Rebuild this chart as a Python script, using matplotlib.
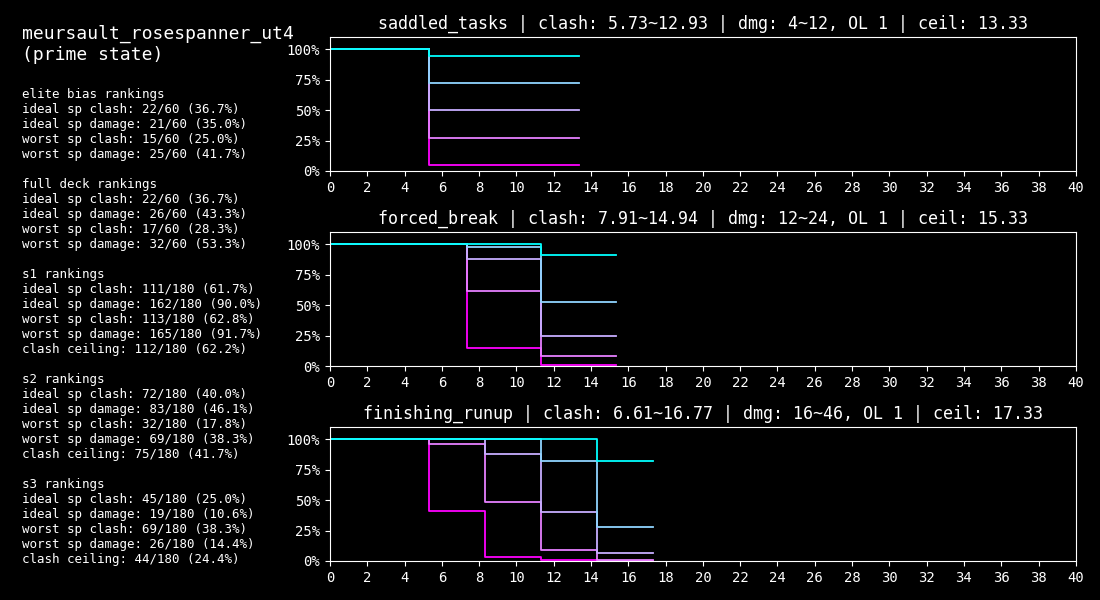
import matplotlib
matplotlib.use('Agg')
import matplotlib.pyplot as plt
from matplotlib.ticker import PercentFormatter

plt.style.use('dark_background')
plt.rcParams['font.family'] = ['DejaVu Sans Mono']

title = "meursault_rosespanner_ut4\n(prime state)"
rankings = """elite bias rankings
ideal sp clash: 22/60 (36.7%)
ideal sp damage: 21/60 (35.0%)
worst sp clash: 15/60 (25.0%)
worst sp damage: 25/60 (41.7%)

full deck rankings
ideal sp clash: 22/60 (36.7%)
ideal sp damage: 26/60 (43.3%)
worst sp clash: 17/60 (28.3%)
worst sp damage: 32/60 (53.3%)

s1 rankings
ideal sp clash: 111/180 (61.7%)
ideal sp damage: 162/180 (90.0%)
worst sp clash: 113/180 (62.8%)
worst sp damage: 165/180 (91.7%)
clash ceiling: 112/180 (62.2%)

s2 rankings
ideal sp clash: 72/180 (40.0%)
ideal sp damage: 83/180 (46.1%)
worst sp clash: 32/180 (17.8%)
worst sp damage: 69/180 (38.3%)
clash ceiling: 75/180 (41.7%)

s3 rankings
ideal sp clash: 45/180 (25.0%)
ideal sp damage: 19/180 (10.6%)
worst sp clash: 69/180 (38.3%)
worst sp damage: 26/180 (14.4%)
clash ceiling: 44/180 (24.4%)"""

colors = ['#00ffff', '#8fd4ff', '#c7adff', '#e680ff', '#ff00ff']

# saddled_tasks
titles = [
    "saddled_tasks | clash: 5.73~12.93 | dmg: 4~12, OL 1 | ceil: 13.33",
    "forced_break | clash: 7.91~14.94 | dmg: 12~24, OL 1 | ceil: 15.33",
    "finishing_runup | clash: 6.61~16.77 | dmg: 16~46, OL 1 | ceil: 17.33",
]
x1 = [0, 5.33, 13.33]
y1 = [
    [1, 0.945, 0.945],
    [1, 0.725, 0.725],
    [1, 0.50, 0.50],
    [1, 0.275, 0.275],
    [1, 0.05, 0.05],
]
x2 = [0, 7.33, 11.33, 15.33]
y2 = [
    [1, 1, 0.91, 0.91],
    [1, 0.98, 0.53, 0.53],
    [1, 0.88, 0.25, 0.25],
    [1, 0.62, 0.08, 0.08],
    [1, 0.145, 0.008, 0.008],
]
x3 = [0, 5.33, 8.33, 11.33, 14.33, 17.33]
y3 = [
    [1, 1, 1, 1, 0.82, 0.82],
    [1, 1, 1, 0.82, 0.277, 0.277],
    [1, 1, 0.882, 0.40, 0.063, 0.063],
    [1, 0.965, 0.483, 0.088, 0.008, 0.008],
    [1, 0.41, 0.033, 0.008, 0.0, 0.0],
]
xs = [x1, x2, x3]
ys = [y1, y2, y3]

fig = plt.figure(figsize=(11, 6), dpi=100)
fig.text(0.02, 0.958, title, fontsize=13, va='top', linespacing=1.15)
fig.text(0.02, 0.853, rankings, fontsize=9, va='top', linespacing=1.2)

bottoms = [0.715, 0.39, 0.065]
for i in range(3):
    ax = fig.add_axes([0.30, bottoms[i], 0.678, 0.223])
    for j in reversed(range(5)):
        ax.step(xs[i], ys[i][j], where='post', c=colors[j], linewidth=1.3)
    ax.set_xlim(0, 40)
    ax.set_ylim(0, 1.1)
    ax.set_xticks(range(0, 41, 2))
    ax.set_yticks([0, 0.25, 0.5, 0.75, 1.0])
    ax.yaxis.set_major_formatter(PercentFormatter(1.0, decimals=0))
    ax.tick_params(axis='both', labelsize=10)
    ax.set_title(titles[i], fontsize=12)

fig.savefig('out.png', dpi=100)
